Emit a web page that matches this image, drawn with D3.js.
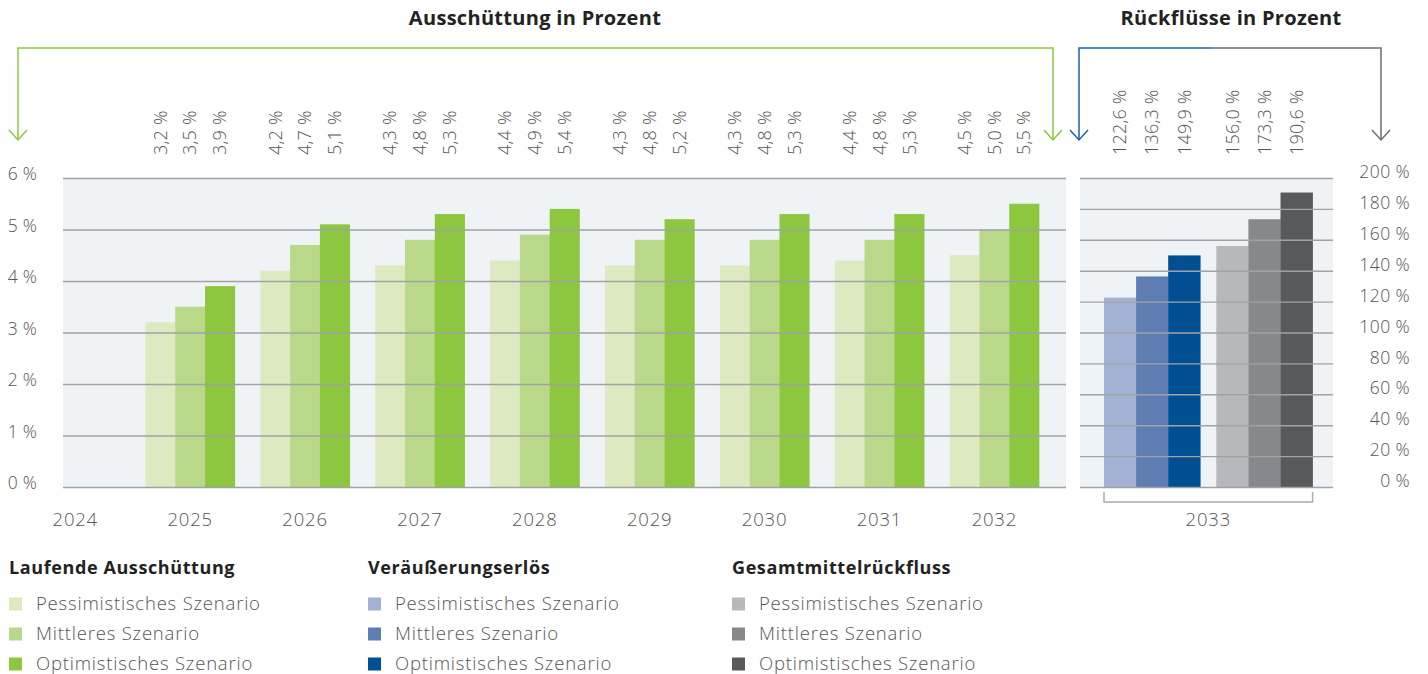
<!DOCTYPE html>
<html>
<head>
<meta charset="utf-8">
<script src="https://cdn.jsdelivr.net/npm/d3@7"></script>
<style>
  html, body { margin: 0; padding: 0; background: #ffffff; }
  svg { display: block; }
  text { font-family: "Open Sans", "Noto Sans", sans-serif; }
</style>
</head>
<body>
<svg id="chart" width="1428" height="674"></svg>
<script>
// ---------- data ----------
const years = ["2024", "2025", "2026", "2027", "2028", "2029", "2030", "2031", "2032"];
const distPessimistic = [null, 3.2, 4.2, 4.3, 4.4, 4.3, 4.3, 4.4, 4.5];
const distMiddle      = [null, 3.5, 4.7, 4.8, 4.9, 4.8, 4.8, 4.8, 5.0];
const distOptimistic  = [null, 3.9, 5.1, 5.3, 5.4, 5.2, 5.3, 5.3, 5.5];

const returnYear = "2033";
const returnGroups = ["Veräußerungserlös", "Gesamtmittelrückfluss"];
const saleValues  = [122.6, 136.3, 149.9];
const totalValues = [156.0, 173.3, 190.6];

const scenarios = ["Pessimistisches Szenario", "Mittleres Szenario", "Optimistisches Szenario"];
const leftTicks = [0, 1, 2, 3, 4, 5, 6];
const rightTicks = [0, 20, 40, 60, 80, 100, 120, 140, 160, 180, 200];

const titleLeft = "Ausschüttung in Prozent";
const titleRight = "Rückflüsse in Prozent";
const legendGroups = ["Laufende Ausschüttung", "Veräußerungserlös", "Gesamtmittelrückfluss"];

// ---------- styles ----------
const greens = ["#dce9c1", "#b9d88a", "#8dc63f"];
const blues  = ["#a3b1d5", "#5e7db3", "#004f93"];
const greys  = ["#b6b8bc", "#87888b", "#58595b"];
const bgFill = "#eff3f6";
const gridColor = "#a0a3a6";
const textColor = "#555555";
const fmt = v => v.toFixed(1).replace(".", ",") + " %";

const svg = d3.select("#chart");

// ---------- left panel ----------
const L = { x0: 63, x1: 1066, top: 178, bottom: 487 };
const yL = d3.scaleLinear().domain([0, 6]).range([L.bottom, L.top]);
const x0 = d3.scaleBand().domain(years).range([17.8, 1051.8]).padding(0);
const barW = 29.8;
const x1 = d3.scaleBand().domain(scenarios).range([0, barW * 3]);

svg.append("rect").attr("x", L.x0).attr("y", L.top)
  .attr("width", L.x1 - L.x0).attr("height", L.bottom - L.top).attr("fill", bgFill);

const leftSeries = [distPessimistic, distMiddle, distOptimistic];
const gOff = (x0.bandwidth() - barW * 3) / 2;
const leftBars = [];
years.forEach((yr, i) => {
  leftSeries.forEach((arr, s) => {
    if (arr[i] != null) leftBars.push({ yr, s, v: arr[i] });
  });
});

svg.append("g").selectAll("rect").data(leftBars).join("rect")
  .attr("x", d => x0(d.yr) + gOff + x1(scenarios[d.s]))
  .attr("y", d => yL(d.v))
  .attr("width", x1.bandwidth() + 0.3)
  .attr("height", d => yL(0) - yL(d.v))
  .attr("fill", d => greens[d.s]);

// gridlines + tick labels (on top of bars)
const axL = svg.append("g").attr("transform", `translate(${L.x0},0)`)
  .call(d3.axisLeft(yL).tickValues(leftTicks).tickSize(-(L.x1 - L.x0)).tickPadding(26)
    .tickFormat(d => d + " %"));
axL.select(".domain").remove();
axL.selectAll("line").attr("stroke", gridColor).attr("stroke-width", 1.4);
axL.selectAll("text").attr("fill", textColor).attr("font-size", 17.5)
  .attr("font-weight", 300).attr("letter-spacing", 0.2).attr("y", -4);

// year labels
const axX = svg.append("g").attr("transform", `translate(0,${L.bottom})`)
  .call(d3.axisBottom(x0).tickSize(0));
axX.select(".domain").remove();
axX.selectAll("text").attr("fill", textColor).attr("font-size", 18.5)
  .attr("font-weight", 300).attr("letter-spacing", 0.8).attr("y", 33).attr("dy", "0.35em");

// value labels
svg.append("g").selectAll("text").data(leftBars).join("text")
  .attr("transform", d => `translate(${x0(d.yr) + gOff + x1(scenarios[d.s]) + x1.bandwidth() / 2},155) rotate(-90)`)
  .attr("dy", "0.35em").attr("text-anchor", "start")
  .attr("fill", textColor).attr("font-size", 18).attr("font-weight", 300).attr("letter-spacing", 0.2)
  .text(d => fmt(d.v));

// ---------- right panel ----------
const R = { x0: 1080, x1: 1333, top: 178, bottom: 487 };
const yR = d3.scaleLinear().domain([0, 200]).range([R.bottom, R.top]);
const xg = d3.scaleBand().domain(returnGroups).range([1104, 1104 + barW * 7]).paddingInner(1 / 7);
const xs = d3.scaleBand().domain(scenarios).range([0, xg.bandwidth()]);

svg.append("rect").attr("x", R.x0).attr("y", R.top)
  .attr("width", R.x1 - R.x0).attr("height", R.bottom - R.top).attr("fill", bgFill);

const rightBars = [];
[saleValues, totalValues].forEach((arr, g) => {
  arr.forEach((v, s) => rightBars.push({ g, s, v }));
});
const rightColors = [blues, greys];

svg.append("g").selectAll("rect").data(rightBars).join("rect")
  .attr("x", d => xg(returnGroups[d.g]) + xs(scenarios[d.s]))
  .attr("y", d => yR(d.v))
  .attr("width", xs.bandwidth() + 0.3)
  .attr("height", d => yR(0) - yR(d.v))
  .attr("fill", d => rightColors[d.g][d.s]);

const axR = svg.append("g").attr("transform", `translate(${R.x1},0)`)
  .call(d3.axisRight(yR).tickValues(rightTicks).tickSize(-(R.x1 - R.x0)).tickPadding(77)
    .tickFormat(d => d + " %"));
axR.select(".domain").remove();
axR.selectAll("line").attr("stroke", gridColor).attr("stroke-width", 1.4);
axR.selectAll("text").attr("fill", textColor).attr("font-size", 17.5)
  .attr("font-weight", 300).attr("letter-spacing", 0.4).attr("text-anchor", "end").attr("y", -6);

svg.append("g").selectAll("text").data(rightBars).join("text")
  .attr("transform", d => `translate(${xg(returnGroups[d.g]) + xs(scenarios[d.s]) + xs.bandwidth() / 2},155) rotate(-90)`)
  .attr("dy", "0.35em").attr("text-anchor", "start")
  .attr("fill", textColor).attr("font-size", 18).attr("font-weight", 300).attr("letter-spacing", 0.2)
  .text(d => fmt(d.v));

// 2033 bracket
const bxL = xg(returnGroups[0]), bxR = xg(returnGroups[1]) + xg.bandwidth();
svg.append("path")
  .attr("d", `M${bxL},492 V502 H${bxR} V492`)
  .attr("fill", "none").attr("stroke", "#a9abae").attr("stroke-width", 1.5);
svg.append("text").attr("x", (bxL + bxR) / 2).attr("y", 520).attr("dy", "0.35em")
  .attr("text-anchor", "middle").attr("fill", textColor).attr("font-size", 18.5).attr("font-weight", 300)
  .attr("letter-spacing", 0.8).text(returnYear);

// ---------- titles & brackets ----------
svg.append("text").attr("x", 535).attr("y", 18).attr("dy", "0.35em").attr("text-anchor", "middle")
  .attr("font-size", 20).attr("font-weight", 700).attr("letter-spacing", 0.3).attr("fill", "#222").text(titleLeft);
svg.append("text").attr("x", 1231).attr("y", 18).attr("dy", "0.35em").attr("text-anchor", "middle")
  .attr("font-size", 20).attr("font-weight", 700).attr("letter-spacing", 0.3).attr("fill", "#222").text(titleRight);

const green = "#8dc63f", blue = "#1a62ad", grey = "#6d6e71";
function arrowHead(x, color) {
  svg.append("path").attr("d", `M${x - 9},130 L${x},140 L${x + 9},130`)
    .attr("fill", "none").attr("stroke", color).attr("stroke-width", 1.5);
}
svg.append("path").attr("d", "M18,140 V48 H1053 V140").attr("fill", "none")
  .attr("stroke", green).attr("stroke-width", 1.5);
arrowHead(18, green); arrowHead(1053, green);
svg.append("path").attr("d", "M1079,140 V48 H1212").attr("fill", "none")
  .attr("stroke", blue).attr("stroke-width", 1.5);
arrowHead(1079, blue);
svg.append("path").attr("d", "M1212,48 H1381 V140").attr("fill", "none")
  .attr("stroke", grey).attr("stroke-width", 1.5);
arrowHead(1381, grey);

// ---------- legend ----------
const legendX = [9, 368, 732];
const legendColors = [greens, blues, greys];
legendGroups.forEach((name, gi) => {
  const g = svg.append("g").attr("transform", `translate(${legendX[gi]},0)`);
  g.append("text").attr("x", 0).attr("y", 568).attr("dy", "0.35em")
    .attr("font-size", 18).attr("font-weight", 700).attr("letter-spacing", 0.6).attr("fill", "#222").text(name);
  scenarios.forEach((sc, si) => {
    const cy = 604 + si * 30;
    g.append("rect").attr("x", 0).attr("y", cy - 6.5).attr("width", 13).attr("height", 13)
      .attr("fill", legendColors[gi][si]);
    g.append("text").attr("x", 27).attr("y", cy).attr("dy", "0.35em")
      .attr("font-size", 18.5).attr("font-weight", 300).attr("letter-spacing", 0.8)
      .attr("fill", textColor).text(sc);
  });
});
</script>
</body>
</html>
